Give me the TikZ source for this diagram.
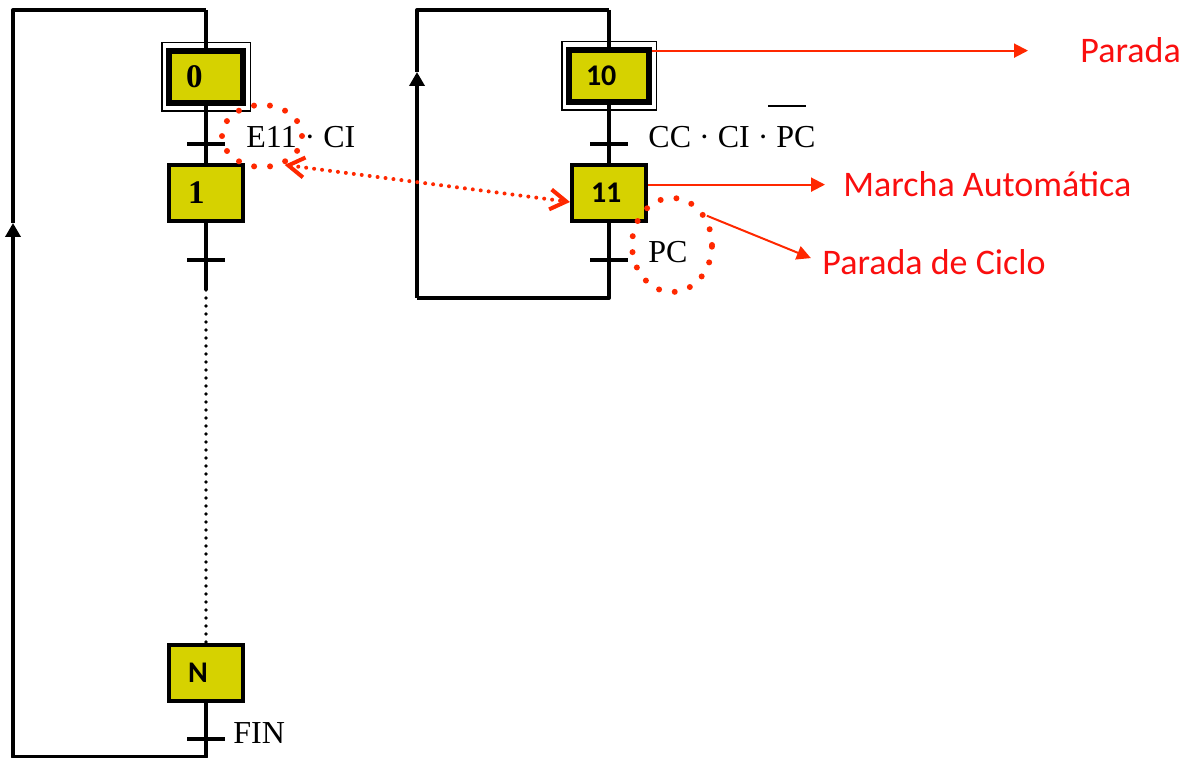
\documentclass[tikz,border=0pt]{standalone}
\usepackage{fontspec}
\setmainfont{Liberation Serif}
\newfontfamily\carlito{Carlito}
\usetikzlibrary{arrows.meta,positioning,shapes.geometric}

\definecolor{amarillo}{RGB}{214,210,0}
\definecolor{rojo}{RGB}{255,40,0}
\definecolor{rojotexto}{RGB}{250,15,15}

\tikzset{
  etapa/.style={draw, line width=2pt, fill=amarillo, inner xsep=9.5pt, inner ysep=0pt,
    text width=18pt, align=left, minimum height=28pt,
    font=\fontsize{16.5}{16.5}\selectfont\bfseries},
  inicial/.style={etapa, line width=3.25pt, inner xsep=8.5pt, text width=20pt, minimum height=26pt},
  sans/.style={font=\carlito\fontsize{15}{15}\selectfont\bfseries},
  trans/.style={fill=black, inner sep=0pt, minimum width=19pt, minimum height=2pt},
  linea/.style={line width=2pt, line join=round},
  etiq/.style={inner sep=0pt, font=\fontsize{16}{16}\selectfont},
  rotulo/.style={inner sep=0pt, text=rojotexto, font=\carlito\fontsize{18}{18}\selectfont},
  flecha/.style={draw=rojo, line width=1pt, -{Triangle[length=7pt,width=7pt]}},
  punteado/.style={draw=rojo, line width=2pt, dash pattern=on 0pt off 4pt, line cap=round,
    {Straight Barb[length=8pt,width=10pt,line width=2pt]}-{Straight Barb[length=8pt,width=10pt,line width=2pt]}},
  ovalo/.style={ellipse, draw=rojo, line width=3pt, dash pattern=on 0pt off 8pt, line cap=round, inner sep=0pt}
}

\begin{document}
\begin{tikzpicture}[x=0.5pt, y=-0.5pt]
    \useasboundingbox (0,0) rectangle (1188,758);

    % etapas
    \node[inicial] (s0) at (206,77) {0};
    \node[etapa] (s1) at (206,193) {1};
    \node[etapa, sans] (sN) at (206,673) {N};
    \node[inicial, sans, text width=23pt] (s10) at (609,76) {10};
    \node[etapa, sans] (s11) at (609,193) {11};

    % marco doble de las etapas iniciales
    \draw[line width=0.75pt] ([shift={(-4,-5)}]s0.north west) rectangle ([shift={(4,5)}]s0.south east);
    \draw[line width=0.75pt] ([shift={(-4,-5)}]s10.north west) rectangle ([shift={(4,5)}]s10.south east);

    % transiciones
    \node[trans] (t1) at (206,144) {};
    \node[trans] (t2) at (206,260) {};
    \node[trans] (t3) at (206,739) {};
    \node[trans] (t4) at (609,144) {};
    \node[trans] (t5) at (609,260) {};

    % puntos de los bucles
    \coordinate (a1) at (206,10);
    \coordinate (a2) at (13,10);
    \coordinate (a3) at (13,757);
    \coordinate (a4) at (206,757);
    \coordinate (m1) at (13,223);
    \coordinate (p1) at (206,290);
    \coordinate (b1) at (609,10);
    \coordinate (b2) at (417,10);
    \coordinate (b3) at (417,298);
    \coordinate (b4) at (609,298);
    \coordinate (m2) at (417,72);

    % grafcet de produccion
    \draw[linea] (a1) -- (s0) -- (t1) -- (s1) -- (t2) -- (p1);
    \draw[linea, line width=1.9pt, dash pattern=on 0pt off 4pt, line cap=round] (p1) -- (sN);
    \draw[linea, -{Triangle[length=7pt,width=7.5pt]}] (sN) -- (t3) -- (a4) -- (a3) -- (m1);
    \draw[linea] (m1) -- (a2) -- (a1);

    % grafcet de marchas y paradas
    \draw[linea] (b1) -- (s10) -- (t4) -- (s11) -- (t5) -- (b4) -- (b3);
    \draw[linea, -{Triangle[length=7pt,width=7.5pt]}] (b3) -- (m2);
    \draw[linea] (m2) -- (b2) -- (b1);

    % receptividades
    \node[etiq, anchor=base west] (c1) at (246,148) {E11 · CI};
    \node[etiq, anchor=base west] (c2) at (648,148) {CC · CI · \rlap{\hspace{-0.25em}\rule[1.28em]{1.16em}{1pt}}PC};
    \node[etiq, anchor=base west] (c3) at (648,263) {PC};
    \node[etiq, anchor=base west] (c4) at (233,743) {FIN};

    % marcas punteadas
    \node[ovalo, minimum width=40pt, minimum height=31pt] (o1) at (262,136) {};
    \node[ovalo, minimum width=40pt, minimum height=47pt] (o2) at (672,245) {};
    \draw[punteado] (o1.-52) -- ([yshift=-4.5pt]s11.west);

    % rotulos
    \node[rotulo, anchor=base west] (r1) at (1080,63) {Parada};
    \node[rotulo, anchor=base west] (r2) at (843,197) {Marcha Automática};
    \node[rotulo, anchor=base west] (r3) at (822,275) {Parada de Ciclo};
    \draw[flecha, shorten >=26pt] (s10.east |- r1.west) -- (r1.west);
    \draw[flecha, shorten >=9pt] (s11.east |- r2.west) -- (r2.west);
    \draw[flecha, shorten >=6pt] (o2.40) -- (r3.west);
\end{tikzpicture}
\end{document}
